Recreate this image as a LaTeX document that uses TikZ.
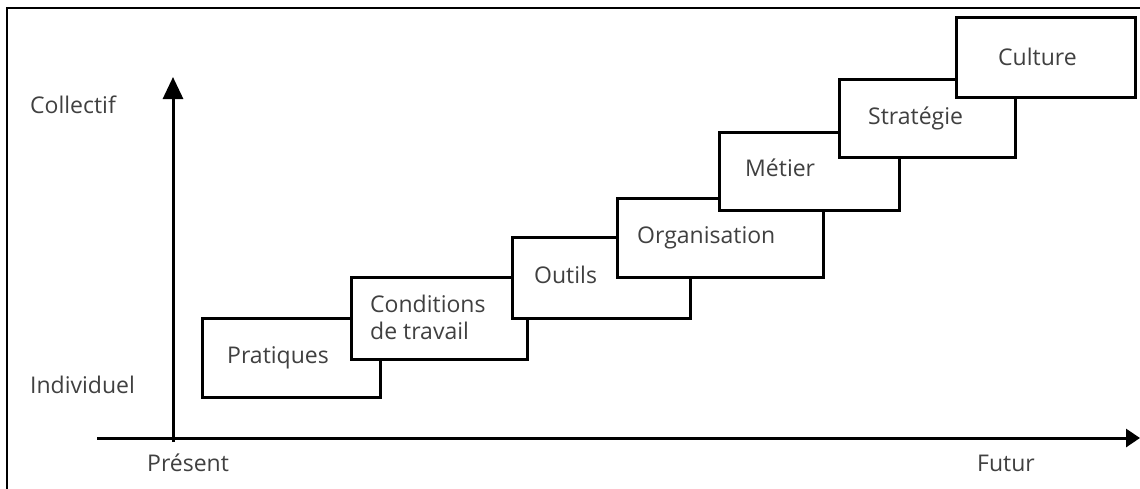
\documentclass[tikz,border=0pt]{standalone}
\usepackage{fontspec}
\setmainfont{Open Sans}
\usetikzlibrary{arrows.meta}
\definecolor{txt}{HTML}{404040}
\tikzset{
  box/.style={draw=black, fill=white, line width=3pt, rectangle, outer sep=0pt, inner sep=0pt, anchor=north west},
  lbl/.style={text=txt, font=\fontsize{23}{27}\selectfont, inner sep=0pt, anchor=west, align=left},
}
\begin{document}
\begin{tikzpicture}[x=1pt,y=-1pt]
\useasboundingbox (0,0) rectangle (1140,488);
% frame
\draw[line width=2.8pt] (7,489) -- (7,8) -- (1141,8);
% axes
\coordinate (yb) at (173,442);
\coordinate (yt) at (173,77);
\coordinate (xb) at (97,438);
\coordinate (xt) at (1140,438);
\draw[line width=3pt, -{Triangle[width=20pt,length=22pt]}] (yb) -- (yt);
\draw[line width=3pt, -{Triangle[width=18pt,length=14pt]}] (xb) -- (xt);
% boxes
\node[box, minimum width=178pt, minimum height=79pt] (p) at (202,318) {};
\node[box, minimum width=176pt, minimum height=82pt] (c) at (351,277) {};
\node[box, minimum width=178pt, minimum height=81pt] (o) at (512,237) {};
\node[box, minimum width=206pt, minimum height=79pt] (g) at (617,198) {};
\node[box, minimum width=180pt, minimum height=78pt] (m) at (719,132) {};
\node[box, minimum width=176pt, minimum height=78pt] (s) at (839,79) {};
\node[box, minimum width=179pt, minimum height=80pt] (k) at (956,17) {};
% labels in boxes
\node[lbl] (pl) at ([xshift=25pt]p.west) {Pratiques};
\node[lbl] (cl) at ([xshift=19pt,yshift=1pt]c.west) {Conditions\\de travail};
\node[lbl] (ol) at ([xshift=22pt,yshift=3pt]o.west) {Outils};
\node[lbl] (gl) at ([xshift=20pt]g.west) {Organisation};
\node[lbl] (ml) at ([xshift=26pt,yshift=3pt]m.west) {Métier};
\node[lbl] (sl) at ([xshift=29pt]s.west) {Stratégie};
\node[lbl] (kl) at ([xshift=42pt]k.west) {Culture};
% axis labels
\node[lbl] (col) at (30,105) {Collectif};
\node[lbl] (ind) at (30,385) {Individuel};
\node[lbl] (pre) at (147,463) {Présent};
\node[lbl] (fut) at (977,463) {Futur};
\end{tikzpicture}
\end{document}
